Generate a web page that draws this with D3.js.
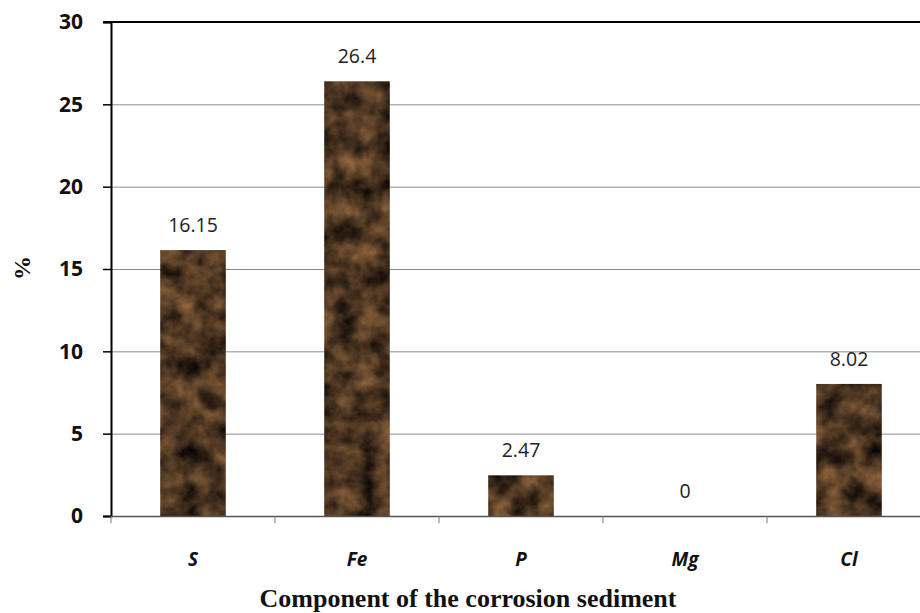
<!DOCTYPE html>
<html>
<head>
<meta charset="utf-8">
<script src="https://cdn.jsdelivr.net/npm/d3@7"></script>
<style>
  body { margin: 0; background: #fff; }
  svg { display: block; }
</style>
</head>
<body>
<div id="chart"></div>
<script>
(function () {
    "use strict";

    // data
    var categories = ["S", "Fe", "P", "Mg", "Cl"];
    var values = [16.15, 26.4, 2.47, 0, 8.02];
    var valueLabels = ["16.15", "26.4", "2.47", "0", "8.02"];
    var yTicks = [0, 5, 10, 15, 20, 25, 30];

    var w = 920, h = 613;
    var left = 111, top = 22, bottom = 516;
    var bandW = 164;

    var svg = d3.select("#chart").append("svg")
        .attr("width", w)
        .attr("height", h);

    // marble-ish brown texture for the bars
    var defs = svg.append("defs");
    var f = defs.append("filter")
        .attr("id", "marble")
        .attr("color-interpolation-filters", "sRGB")
        .attr("x", 0).attr("y", 0).attr("width", 1).attr("height", 1);
    f.append("feTurbulence")
        .attr("type", "fractalNoise")
        .attr("baseFrequency", "0.045")
        .attr("numOctaves", 5)
        .attr("seed", 11)
        .attr("result", "noise");
    f.append("feColorMatrix")
        .attr("in", "noise")
        .attr("type", "matrix")
        .attr("values",
            "0.7 0 0 0 -0.05 " +
            "0.5 0 0 0 -0.04 " +
            "0.3 0 0 0 -0.02 " +
            "0 0 0 0 1")
        .attr("result", "brown");
    f.append("feComposite")
        .attr("in", "brown")
        .attr("in2", "SourceGraphic")
        .attr("operator", "in");

    var x = d3.scaleBand()
        .domain(categories)
        .range([left, left + bandW * categories.length])
        .paddingInner(0.6)
        .paddingOuter(0.3);

    var y = d3.scaleLinear()
        .domain([0, 30])
        .range([bottom, top]);

    // grid lines
    svg.append("g")
        .selectAll("line")
        .data(yTicks.filter(function (d) { return d > 0 && d < 30; }))
        .enter()
        .append("line")
        .attr("x1", left).attr("x2", w)
        .attr("y1", function (d) { return y(d) + 0.5; })
        .attr("y2", function (d) { return y(d) + 0.5; })
        .attr("stroke", "#8c8c8c")
        .attr("stroke-width", 1);

    // top border
    svg.append("line")
        .attr("x1", left - 8).attr("x2", w)
        .attr("y1", y(30)).attr("y2", y(30))
        .attr("stroke", "#000").attr("stroke-width", 2);

    // bars
    svg.selectAll("rect.bar")
        .data(values)
        .enter()
        .append("rect")
        .attr("class", "bar")
        .attr("x", function (d, i) { return x(categories[i]); })
        .attr("y", function (d) { return y(d); })
        .attr("width", x.bandwidth())
        .attr("height", function (d) { return bottom - y(d); })
        .attr("fill", "#4a2f1e")
        .attr("filter", "url(#marble)");

    // value labels
    svg.selectAll("text.val")
        .data(values)
        .enter()
        .append("text")
        .attr("class", "val")
        .attr("x", function (d, i) { return x(categories[i]) + x.bandwidth() / 2; })
        .attr("y", function (d) { return y(d) - 18; })
        .attr("text-anchor", "middle")
        .attr("font-family", "'Open Sans', sans-serif")
        .attr("font-size", "19.5px")
        .attr("fill", "#222")
        .text(function (d, i) { return valueLabels[i]; });

    // y axis
    var yAxis = svg.append("g")
        .attr("transform", "translate(" + left + ",0)")
        .call(d3.axisLeft(y).tickValues(yTicks).tickSize(8).tickPadding(20));
    yAxis.select(".domain").attr("stroke", "#000").attr("stroke-width", 2);
    yAxis.selectAll(".tick line").attr("stroke", "#000").attr("stroke-width", 1.5);
    yAxis.selectAll("text")
        .attr("font-family", "'Open Sans', sans-serif")
        .attr("font-weight", "bold")
        .attr("font-size", "21px")
        .attr("fill", "#111");

    // x axis
    var ticksX = d3.range(categories.length + 1).map(function (i) { return left + i * bandW; });
    svg.append("line")
        .attr("x1", left).attr("x2", w)
        .attr("y1", bottom + 0.5).attr("y2", bottom + 0.5)
        .attr("stroke", "#555").attr("stroke-width", 1.5);
    svg.append("g")
        .selectAll("line")
        .data(ticksX)
        .enter()
        .append("line")
        .attr("x1", function (d) { return d; })
        .attr("x2", function (d) { return d; })
        .attr("y1", bottom).attr("y2", bottom + 7)
        .attr("stroke", "#777");

    svg.selectAll("text.cat")
        .data(categories)
        .enter()
        .append("text")
        .attr("class", "cat")
        .attr("x", function (d) { return x(d) + x.bandwidth() / 2; })
        .attr("y", 566)
        .attr("text-anchor", "middle")
        .attr("font-family", "'Open Sans', sans-serif")
        .attr("font-weight", "bold")
        .attr("font-style", "italic")
        .attr("font-size", "19px")
        .attr("fill", "#111")
        .text(function (d) { return d; });

    // axis titles
    svg.append("text")
        .attr("x", 468)
        .attr("y", 607)
        .attr("text-anchor", "middle")
        .attr("font-family", "'Liberation Serif', 'Times New Roman', serif")
        .attr("font-weight", "bold")
        .attr("font-size", "26px")
        .attr("fill", "#111")
        .text("Component of the corrosion sediment");

    svg.append("text")
        .attr("transform", "translate(30,268) rotate(-90)")
        .attr("text-anchor", "middle")
        .attr("font-family", "'Liberation Serif', 'Times New Roman', serif")
        .attr("font-weight", "bold")
        .attr("font-size", "24px")
        .attr("fill", "#111")
        .text("%");
})();
</script>
</body>
</html>
